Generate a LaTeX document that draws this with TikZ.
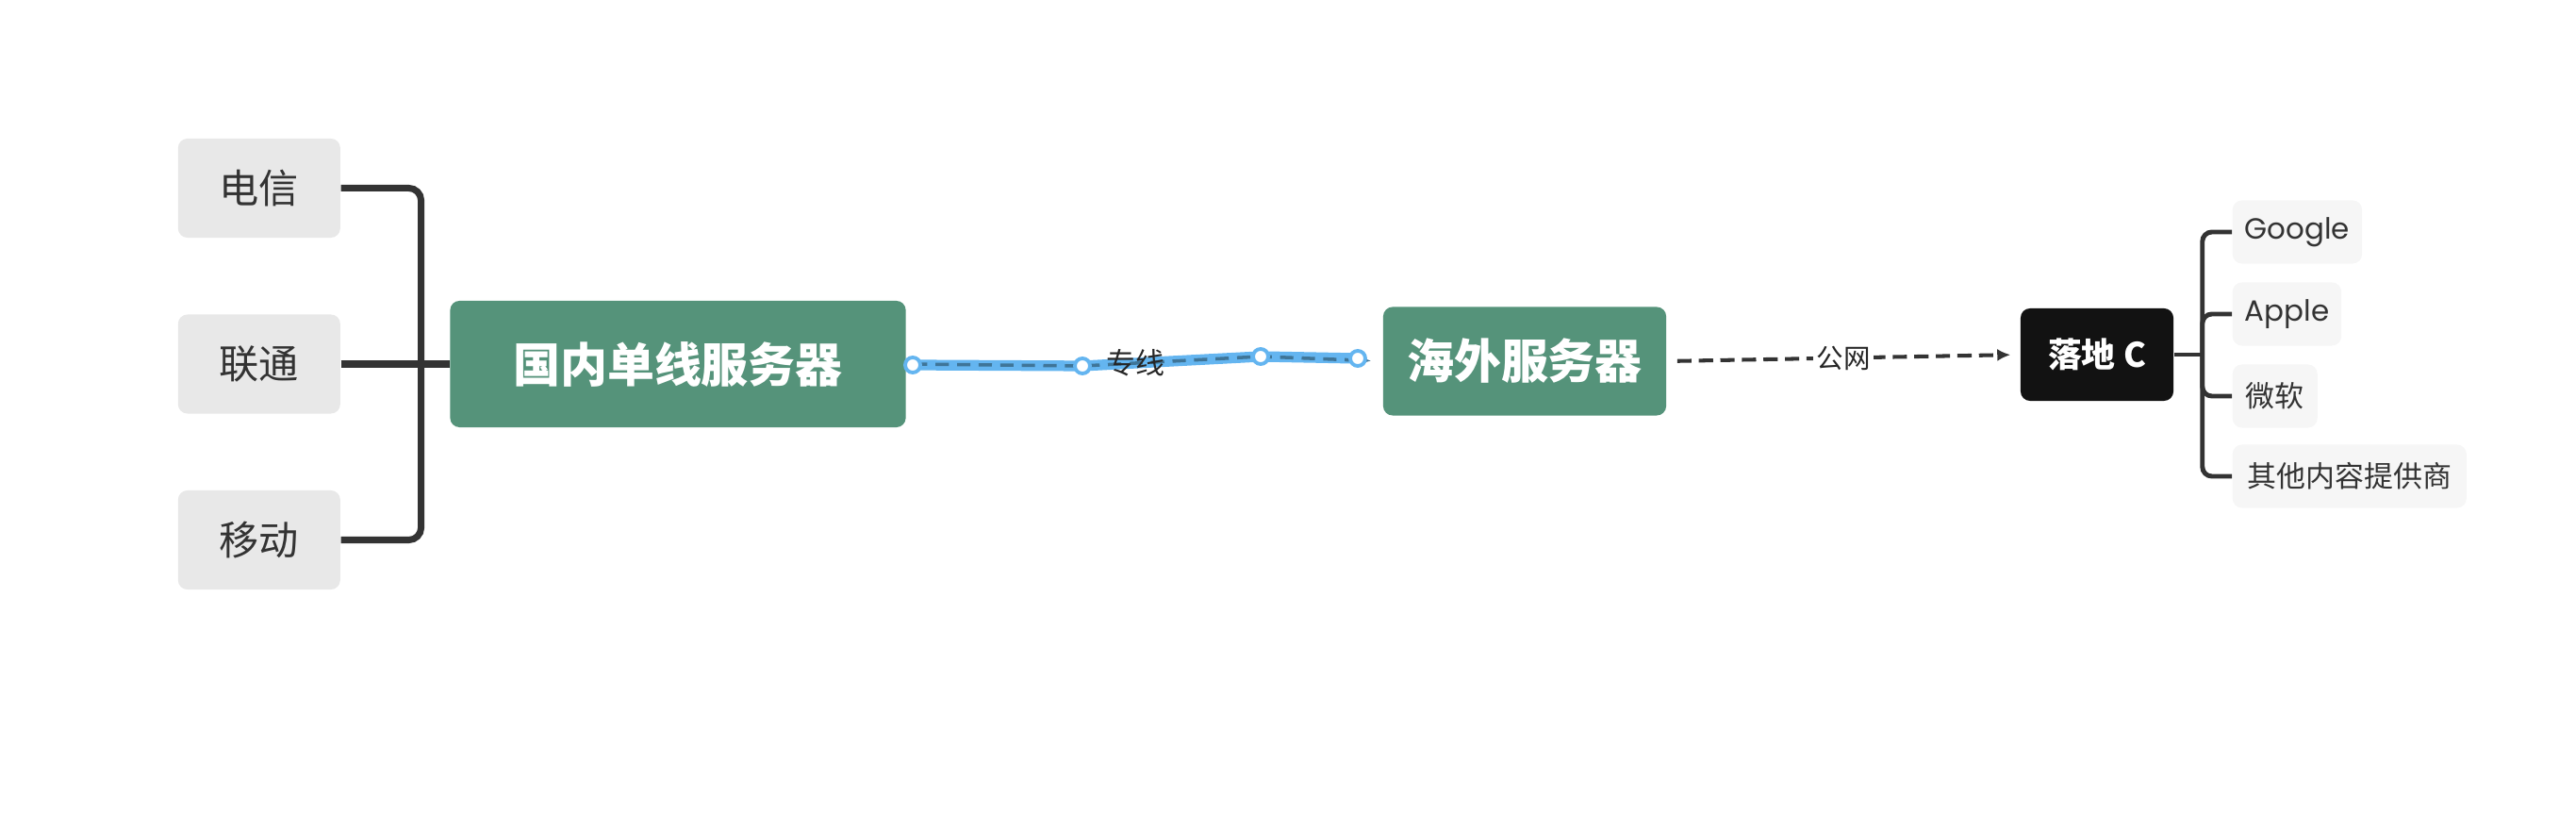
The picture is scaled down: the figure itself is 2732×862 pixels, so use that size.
\documentclass[tikz,border=0pt]{standalone}
\usepackage{fontspec}
\setmainfont{Noto Sans CJK SC}
\newfontfamily\latinfont{Poppins}
\usetikzlibrary{positioning,calc,arrows.meta}

\definecolor{srvgreen}{HTML}{55937A}
\definecolor{leafgray}{HTML}{E8E8E8}
\definecolor{subgray}{HTML}{F6F6F6}
\definecolor{linedark}{HTML}{333333}
\definecolor{hlblue}{HTML}{64B5F0}
\definecolor{hldash}{HTML}{3F7598}

\tikzset{
  leaf/.style={fill=leafgray, rounded corners=0.1cm, minimum width=1.72cm, minimum height=1.05cm,
    text=linedark, font=\fontsize{12}{14}\selectfont},
  srv/.style={fill=srvgreen, rounded corners=0.1cm, text=white, font=\bfseries\fontsize{14.2}{17}\selectfont},
  landbox/.style={fill=black!93, rounded corners=0.1cm, text=white, minimum width=1.62cm,
    minimum height=0.98cm, font=\bfseries\fontsize{10.2}{12}\selectfont},
  sub/.style={fill=subgray, rounded corners=0.1cm, anchor=west, minimum height=0.67cm,
    inner xsep=0.13cm, align=left, text=linedark, font=\fontsize{8.8}{10}\selectfont},
  trunk/.style={draw=linedark, line width=2pt, rounded corners=0.13cm},
  twig/.style={draw=linedark, line width=1.4pt, rounded corners=0.1cm},
  knob/.style={circle, draw=hlblue, fill=white, line width=1.1pt, inner sep=0pt, minimum size=0.16cm},
}

\begin{document}
\begin{tikzpicture}[x=0.01cm, y=-0.01cm]
    \useasboundingbox (0,0) rectangle (2732,862);
    \node[srv, minimum width=4.83cm, minimum height=1.34cm] (dom) at (719,386) {国内单线服务器};
    \node[leaf, left=1.15cm of dom] (lt) {联通};
    \node[leaf, above=0.8cm of lt] (dx) {电信};
    \node[leaf, below=0.8cm of lt] (yd) {移动};
    \node[srv, minimum width=3cm, minimum height=1.15cm] (ovs) at (1617,383) {海外服务器};
    \node[landbox] (ldc) at (2224,376) {落地 C};
    \node[sub, minimum width=1.35cm] (gg) at (2367,246) {\latinfont Google};
    \node[sub, minimum width=1.11cm] (ap) at (2367,333) {\latinfont Apple};
    \node[sub, minimum width=0.9cm] (ms) at (2367,420) {微软};
    \node[sub, minimum width=2.48cm] (ot) at (2367,505) {其他内容提供商};

    % left side
    \draw[trunk] (dx.east) -| ($(yd.east)+(85,0)$) -- (yd.east);
    \draw[trunk] (lt.east) -- (dom.west);

    % dedicated line
    \coordinate (k0) at (968,387);
    \coordinate (k1) at (1148,388);
    \coordinate (k2) at (1337,378);
    \coordinate (k3) at (1440,380);
    \draw[hlblue, line width=3.2pt, line cap=round, line join=round] (k0) -- (k1) -- (k2) -- (k3);
    \draw[hldash, line width=1pt, dash pattern=on 4pt off 2.5pt, -{Latex[length=0.12cm, width=0.1cm]},
      shorten <=0.08cm, shorten >=0.12cm] (dom.east) -- (k1) -- (k2) -- (ovs.west);
    \foreach \k in {k0,k1,k2,k3}
      \node[knob] at (\k) {};
    \path (k1) -- node[pos=0.3, text=black!85, font=\fontsize{8.8}{10}\selectfont] (zx) {专线} (k2);

    % public network
    \draw[linedark, line width=1.15pt, dash pattern=on 4.3pt off 2.2pt, -{Latex[length=0.14cm, width=0.13cm]},
      shorten <=0.11cm, shorten >=0.1cm] (ovs.east) -- node[fill=white, inner sep=1pt, text=black!85,
      font=\fontsize{8.1}{10}\selectfont] (gw) {公网} (ldc.west);

    % right side
    \coordinate[right=0.3cm of ldc.east] (rb);
    \draw[twig] (ldc.east) -- (rb);
    \draw[twig] (gg.west) -| (rb |- ot.west) -- (ot.west);
    \draw[twig] (rb) |- (ap.west);
    \draw[twig] (rb) |- (ms.west);
\end{tikzpicture}
\end{document}
